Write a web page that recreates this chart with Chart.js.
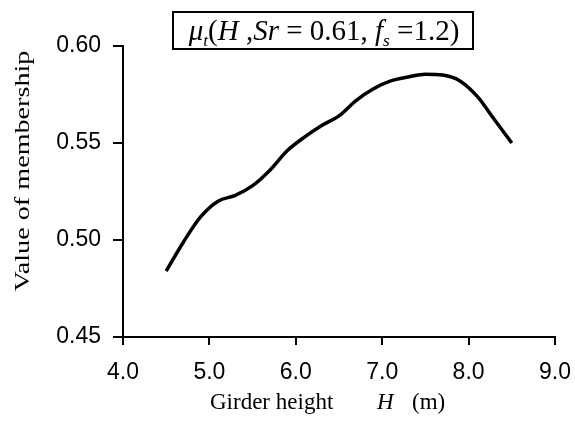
<!DOCTYPE html>
<html>
<head>
<meta charset="utf-8">
<script src="https://cdn.jsdelivr.net/npm/chart.js@4.4.1/dist/chart.umd.min.js"></script>
<style>
  html, body { margin: 0; padding: 0; background: #fff; }
  #wrap { width: 575px; height: 421px; }
</style>
</head>
<body>
<div id="wrap"><canvas id="membership"></canvas></div>
<script>
// Data
const girder_height = [4.5, 4.7, 4.9, 5.1, 5.3, 5.5, 5.7, 5.9, 6.1, 6.3, 6.5, 6.7, 6.9, 7.1, 7.3, 7.5, 7.7, 7.9, 8.1, 8.3, 8.5];
const membership = [0.484, 0.499, 0.512, 0.520, 0.523, 0.528, 0.536, 0.546, 0.553, 0.559, 0.564, 0.572, 0.578, 0.582, 0.584, 0.5855, 0.585, 0.582, 0.574, 0.562, 0.550];
const x_ticks = [4.0, 5.0, 6.0, 7.0, 8.0, 9.0];
const y_ticks = [0.45, 0.50, 0.55, 0.60];

const serif = '"Liberation Serif", "Times New Roman", serif';
const sans = '"Liberation Sans", Arial, sans-serif';

// title pieces: text, italic, subscript
const title_parts = [
    ['μ', true, false], ['t', true, true], ['(', false, false], ['H', true, false],
    [' ,', false, false], ['Sr', true, false], [' = 0.61, ', false, false],
    ['f', true, false], ['s', true, true], [' =1.2)', false, false]
];

function drawParts(ctx, parts, x, y, size) {
    parts.forEach(p => {
        const s = p[2] ? size * 0.6 : size;
        ctx.font = (p[1] ? 'italic ' : '') + s + 'px ' + serif;
        ctx.fillText(p[0], x, p[2] ? y + size * 0.2 : y);
        x += ctx.measureText(p[0]).width;
    });
}

function partsWidth(ctx, parts, size) {
    let w = 0;
    parts.forEach(p => {
        const s = p[2] ? size * 0.6 : size;
        ctx.font = (p[1] ? 'italic ' : '') + s + 'px ' + serif;
        w += ctx.measureText(p[0]).width;
    });
    return w;
}

const labelsPlugin = {
    id: 'labels',
    afterDraw(chart) {
        const ctx = chart.ctx;
        ctx.save();
        ctx.textBaseline = 'alphabetic';

        // boxed title
        ctx.fillStyle = '#fff';
        ctx.fillRect(173, 12, 300, 37);
        ctx.strokeStyle = '#000';
        ctx.lineWidth = 2;
        ctx.strokeRect(173, 12, 300, 37);
        ctx.fillStyle = '#000';
        const size = 29;
        const w = partsWidth(ctx, title_parts, size);
        drawParts(ctx, title_parts, 324 - w / 2, 40, size);

        // x axis title
        ctx.font = '23px ' + serif;
        ctx.fillText('Girder height', 210, 409);
        ctx.font = 'italic 23px ' + serif;
        ctx.fillText('H', 377, 409);
        ctx.font = '23px ' + serif;
        ctx.fillText('(m)', 412, 409);

        // y axis title (stretched along its length like the scan)
        ctx.translate(29, 171);
        ctx.rotate(-Math.PI / 2);
        ctx.scale(1.28, 1);
        ctx.textAlign = 'center';
        ctx.font = '22px ' + serif;
        ctx.fillText('Value of membership', 0, 0);
        ctx.restore();
    }
};

new Chart(document.getElementById('membership'), {
    type: 'line',
    data: {
        datasets: [{
            data: girder_height.map((h, i) => ({ x: h, y: membership[i] })),
            borderColor: '#000',
            borderWidth: 3.5,
            pointRadius: 0,
            tension: 0.4,
            cubicInterpolationMode: 'monotone',
            fill: false
        }]
    },
    options: {
        responsive: true,
        maintainAspectRatio: false,
        animation: false,
        layout: { padding: { top: 46, right: 20, left: 0, bottom: 0 } },
        plugins: { legend: { display: false }, tooltip: { enabled: false } },
        scales: {
            x: {
                type: 'linear',
                min: 4.0,
                max: 9.0,
                afterBuildTicks: axis => { axis.ticks = x_ticks.map(v => ({ value: v })); },
                afterFit: axis => {
                    axis.height = 84;
                    axis.paddingLeft = 0;
                    axis.paddingRight = 0;
                },
                ticks: {
                    color: '#000',
                    font: { family: sans, size: 23 },
                    padding: 14,
                    maxRotation: 0,
                    callback: v => v.toFixed(1)
                },
                grid: { drawOnChartArea: false, drawTicks: true, tickLength: 8, color: '#000', lineWidth: 2 },
                border: { display: true, color: '#000', width: 2 }
            },
            y: {
                min: 0.45,
                max: 0.60,
                afterBuildTicks: axis => { axis.ticks = y_ticks.map(v => ({ value: v })); },
                afterFit: axis => { axis.width = 123; },
                ticks: {
                    color: '#000',
                    font: { family: sans, size: 23 },
                    padding: 12,
                    callback: v => v.toFixed(2)
                },
                grid: { drawOnChartArea: false, drawTicks: true, tickLength: 10, color: '#000', lineWidth: 2 },
                border: { display: true, color: '#000', width: 2 }
            }
        }
    },
    plugins: [labelsPlugin]
});
</script>
</body>
</html>
